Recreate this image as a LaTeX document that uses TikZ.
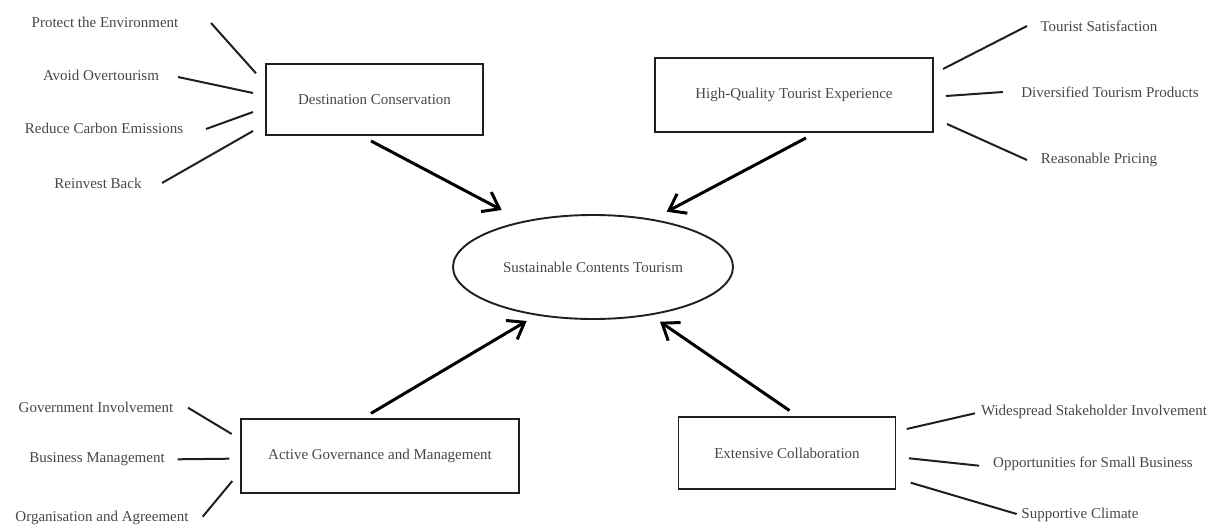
\documentclass[tikz,border=0pt]{standalone}
\usepackage{fontspec}
\setmainfont{Liberation Serif}
\usetikzlibrary{arrows.meta,shapes.geometric}
\begin{document}
\begin{tikzpicture}[x=1pt,y=-1pt,
  lbl/.style={font=\fontsize{15}{17}\selectfont, text=black!72, inner sep=0pt},
  box/.style={draw=black!88, line width=1.9pt, lbl, text=black!72},
  link/.style={draw=black!88, line width=2pt},
  arr/.style={draw=black, line width=3pt, -{Straight Barb[length=15pt,width=22pt,line width=3pt]}}]
  \useasboundingbox (0,0) rectangle (1219,527);

  % central concept
  \node[draw=black!88, line width=1.9pt, ellipse, minimum width=280pt, minimum height=104pt,
        lbl, text=black!72] (sct) at (593,267) {Sustainable Contents Tourism};

  % four pillars
  \node[box, minimum width=217pt, minimum height=71pt] (dc) at (374.5,99.5) {Destination Conservation};
  \node[box, minimum width=278pt, minimum height=74pt] (hq) at (794,95) {High-Quality Tourist Experience};
  \node[box, minimum width=278pt, minimum height=74pt] (ag) at (380,456.3) {Active Governance and Management};
  \node[box, minimum width=217pt, minimum height=72pt] (ec) at (787,453) {Extensive Collaboration};

  % arrows into the central concept
  \coordinate (t1) at (501.7,210);
  \coordinate (t2) at (666.7,211.7);
  \coordinate (t3) at (526.7,321);
  \coordinate (t4) at (660,321.7);
  \draw[arr] ([shift={(-3.5,5)}]dc.south) -- (t1);
  \draw[arr] ([shift={(12,5)}]hq.south) -- (t2);
  \draw[arr] ([shift={(-9,-5)}]ag.north) -- (t3);
  \draw[arr] ([shift={(2.5,-5.5)}]ec.north) -- (t4);

  % Destination Conservation
  \node[lbl] (d1) at (105,22.7) {Protect the Environment};
  \node[lbl] (d2) at (101,75) {Avoid Overtourism};
  \node[lbl] (d3) at (104,128) {Reduce Carbon Emissions};
  \node[lbl] (d4) at (98,183) {Reinvest Back};
  \coordinate (d1a) at (211,23);   \coordinate (d1b) at (256,73.3);
  \coordinate (d2a) at (178,77);   \coordinate (d2b) at (253,93);
  \coordinate (d3a) at (206,129);  \coordinate (d3b) at (253,112);
  \coordinate (d4a) at (162,183);  \coordinate (d4b) at (253,131);
  \draw[link] (d1a) -- (d1b);
  \draw[link] (d2a) -- (d2b);
  \draw[link] (d3a) -- (d3b);
  \draw[link] (d4a) -- (d4b);

  % High-Quality Tourist Experience
  \node[lbl] (h1) at (1099,26) {Tourist Satisfaction};
  \node[lbl] (h2) at (1110,92) {Diversified Tourism Products};
  \node[lbl] (h3) at (1099,160) {Reasonable Pricing};
  \coordinate (h1a) at (943,69);   \coordinate (h1b) at (1027,26);
  \coordinate (h2a) at (946,96);   \coordinate (h2b) at (1003,92);
  \coordinate (h3a) at (947,124);  \coordinate (h3b) at (1027,160);
  \draw[link] (h1a) -- (h1b);
  \draw[link] (h2a) -- (h2b);
  \draw[link] (h3a) -- (h3b);

  % Active Governance and Management
  \node[lbl] (g1) at (96,407) {Government Involvement};
  \node[lbl] (g2) at (97,459) {Business Management};
  \node[lbl] (g3) at (102,517.7) {Organisation and Agreement};
  \coordinate (g1a) at (188,407.7); \coordinate (g1b) at (231.7,434);
  \coordinate (g2a) at (177.7,459.3); \coordinate (g2b) at (229.3,458.7);
  \coordinate (g3a) at (202.7,516.7); \coordinate (g3b) at (232.3,481);
  \draw[link] (g1a) -- (g1b);
  \draw[link] (g2a) -- (g2b);
  \draw[link] (g3a) -- (g3b);

  % Extensive Collaboration
  \node[lbl] (e1) at (1094,411.7) {Widespread Stakeholder Involvement};
  \node[lbl] (e2) at (1093,464) {Opportunities for Small Business};
  \node[lbl] (e3) at (1080,515) {Supportive Climate};
  \coordinate (e1a) at (906.7,429); \coordinate (e1b) at (975,413.3);
  \coordinate (e2a) at (909,458.3); \coordinate (e2b) at (979,465.7);
  \coordinate (e3a) at (910.7,482.7); \coordinate (e3b) at (1016.7,514);
  \draw[link] (e1a) -- (e1b);
  \draw[link] (e2a) -- (e2b);
  \draw[link] (e3a) -- (e3b);
\end{tikzpicture}
\end{document}
